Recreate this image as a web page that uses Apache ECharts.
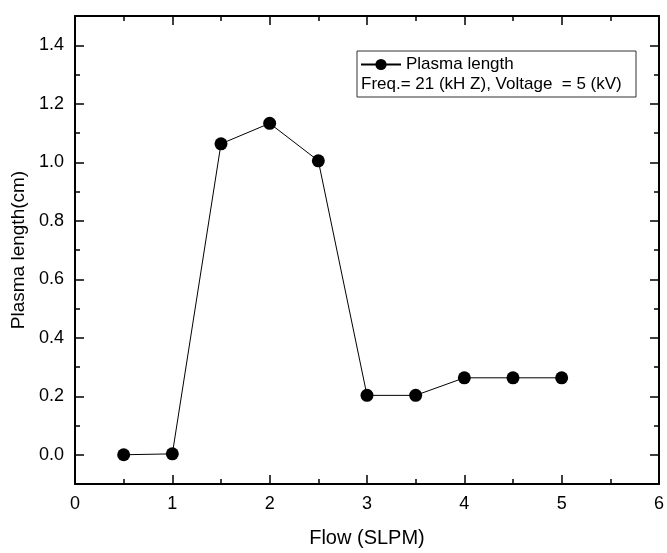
<!DOCTYPE html>
<html>
<head>
<meta charset="utf-8">
<script src="https://cdn.jsdelivr.net/npm/echarts@6/dist/echarts.min.js"></script>
<style>html,body{margin:0;padding:0;background:#fff}#c{width:667px;height:553px}</style>
</head>
<body>
<div id="c"></div>
<script>
var flow = [0.5, 1, 1.5, 2, 2.5, 3, 3.5, 4, 4.5, 5];
var plasmaLength = [0.0, 0.003, 1.063, 1.133, 1.005, 0.203, 0.203, 0.263, 0.263, 0.263];
var yMajorTicks = [0, 0.2, 0.4, 0.6, 0.8, 1.0, 1.2, 1.4];
var yMinorTicks = [-0.1, 0.1, 0.3, 0.5, 0.7, 0.9, 1.1, 1.3, 1.5];
var seriesName = 'Plasma length';
var noteText = 'Freq.= 21 (kH Z), Voltage  = 5 (kV)';

var FONT = 'Liberation Sans, Arial, sans-serif';
var chart = echarts.init(document.getElementById('c'));

function yAx(pos, major, labels) {
  return {
    type: 'value', position: pos, min: -0.1, max: 1.5, interval: 0.1,
    axisLine: { show: major, onZero: false, lineStyle: { color: '#000', width: 2 } },
    axisTick: { show: true, inside: true, length: major ? 9 : 5, customValues: major ? yMajorTicks : yMinorTicks,
      lineStyle: { color: '#000', width: 1.5 } },
    axisLabel: labels ? { show: true, customValues: yMajorTicks, margin: 11, color: '#000', fontSize: 18, fontFamily: FONT,
      formatter: function (v) { return v.toFixed(1); } } : { show: false },
    splitLine: { show: false },
    name: labels ? 'Plasma length(cm)' : '', nameLocation: 'middle', nameGap: 44,
    nameTextStyle: { color: '#000', fontSize: 19, fontFamily: FONT }
  };
}
function xAx(pos, labels) {
  return {
    type: 'value', position: pos, min: 0, max: 6, interval: 1,
    axisLine: { show: true, onZero: false, lineStyle: { color: '#000', width: 2 } },
    axisTick: { show: true, inside: true, length: 9, lineStyle: { color: '#000', width: 1.5 } },
    minorTick: { show: true, splitNumber: 2, length: 5, lineStyle: { color: '#000', width: 1.5 } },
    axisLabel: labels ? { show: true, margin: 11, color: '#000', fontSize: 18, fontFamily: FONT } : { show: false },
    splitLine: { show: false }, minorSplitLine: { show: false },
    name: labels ? 'Flow (SLPM)' : '', nameLocation: 'middle', nameGap: 44,
    nameTextStyle: { color: '#000', fontSize: 20, fontFamily: FONT }
  };
}

chart.setOption({
  animation: false,
  backgroundColor: '#fff',
  grid: { left: 75, right: 5, top: 16, bottom: 66, containLabel: false },
  xAxis: [xAx('bottom', true), xAx('top', false)],
  yAxis: [yAx('left', true, true), yAx('left', false, false), yAx('right', true, false), yAx('right', false, false)],
  legend: {
    left: 360, top: 56, padding: 0, itemWidth: 40, itemHeight: 14, itemGap: 0,
    textStyle: { color: '#000', fontSize: 17, fontFamily: FONT },
    data: [seriesName]
  },
  graphic: [
    { type: 'rect', shape: { x: 357, y: 51, width: 279, height: 46 }, style: { fill: 'none', stroke: '#333', lineWidth: 1 }, z: 10 },
    { type: 'text', left: 361, top: 76, style: { text: noteText, fill: '#000', fontSize: 17, fontFamily: FONT }, z: 10 }
  ],
  series: [{
    name: seriesName, type: 'line', xAxisIndex: 0, yAxisIndex: 0,
    data: flow.map(function (f, i) { return [f, plasmaLength[i]]; }),
    symbol: 'circle', symbolSize: 13,
    itemStyle: { color: '#000' },
    lineStyle: { color: '#000', width: 1 }
  }]
});
</script>
</body>
</html>
